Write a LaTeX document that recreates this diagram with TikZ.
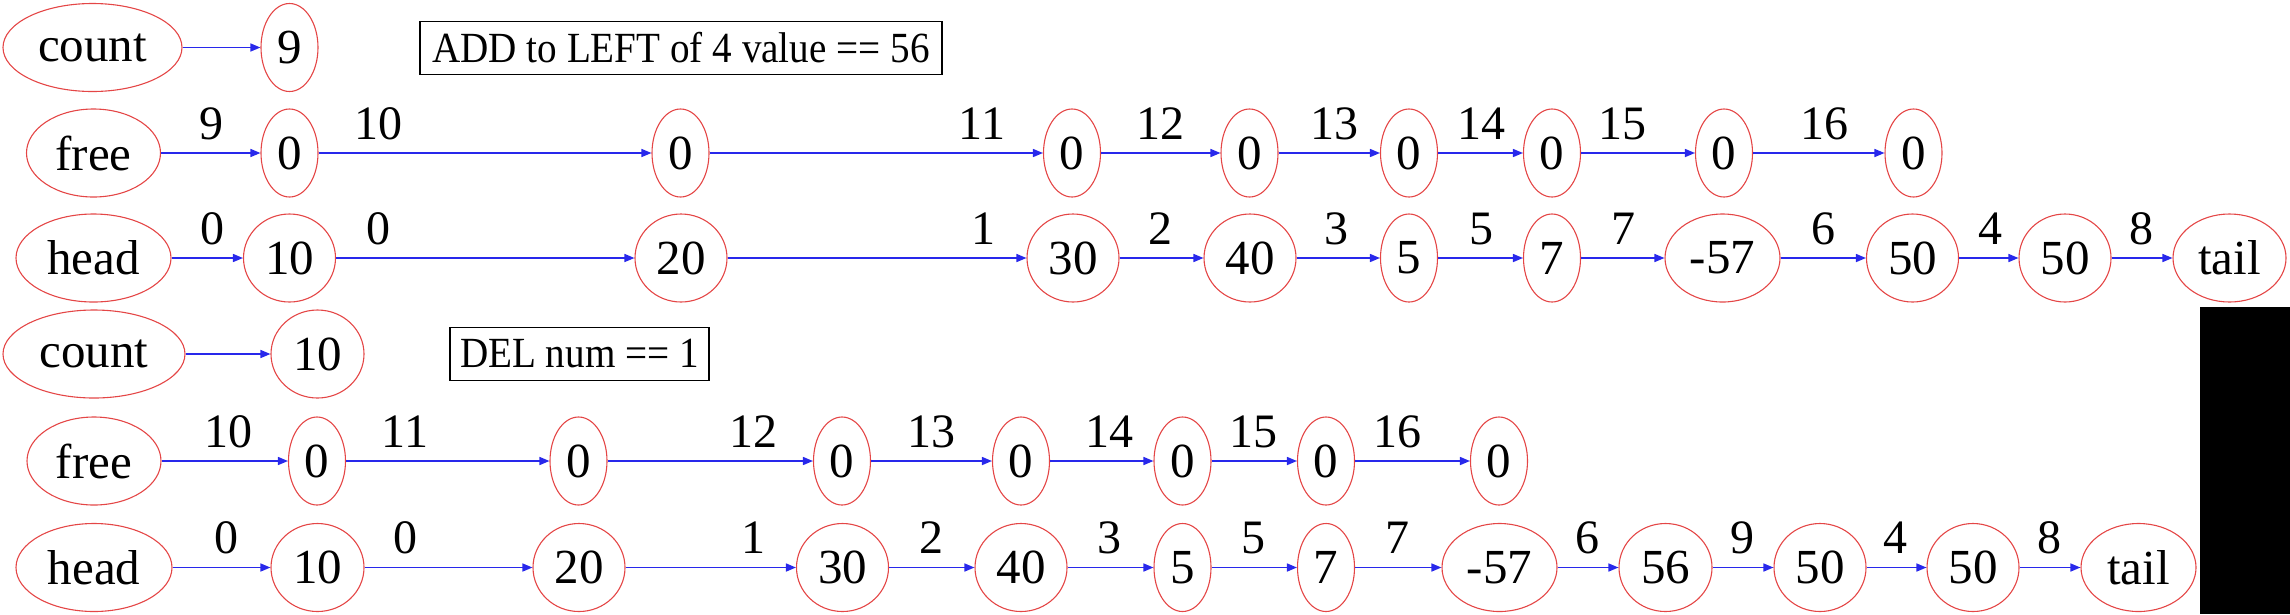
\documentclass[tikz,border=0pt]{standalone}
\usepackage{fontspec}
\setmainfont{Liberation Serif}
\newfontfamily\msgfont{Liberation Serif}[FakeStretch=0.91]
\usetikzlibrary{shapes.geometric,arrows.meta}
\definecolor{nodered}{RGB}{228,70,70}
\definecolor{edgeblue}{RGB}{40,40,235}
\tikzset{
  nd/.style={ellipse, draw=nodered, line width=1.1pt, inner sep=0pt, minimum height=88pt, font=\fontsize{49}{56}\selectfont},
  w1/.style={nd, minimum width=57pt},
  w2/.style={nd, minimum width=92pt},
  w3/.style={nd, minimum width=115pt},
  lbl/.style={anchor=base, inner sep=0pt, font=\fontsize{48}{56}\selectfont},
  edge/.style={draw=edgeblue, line width=1.5pt, -{Triangle[length=10pt,width=8pt]}},
  msg/.style={draw=black, line width=1.2pt, minimum height=53pt, inner sep=0pt, font=\msgfont\fontsize{43}{48}\selectfont}
}
\begin{document}
\begin{tikzpicture}[x=1pt,y=-1pt]
\useasboundingbox (0,0) rectangle (2290,614);
% ---------- top section ----------
\node[nd, minimum width=179pt] (tc) at (92.5,47.5) {count};
\node[w1] (tcv) at (289.5,47.5) {9};
\draw[edge] (tc) -- (tcv);
\node[msg, minimum width=522pt] (tmsg) at (681,48) {ADD to LEFT of 4 value == 56};
% free row
\node[nd, minimum width=134pt] (tf) at (93.5,153) {free};
\node[w1] (tf1) at (289.5,153) {0};
\node[w1] (tf2) at (680.5,153) {0};
\node[w1] (tf3) at (1072,153) {0};
\node[w1] (tf4) at (1249.5,153) {0};
\node[w1] (tf5) at (1409,153) {0};
\node[w1] (tf6) at (1552,153) {0};
\node[w1] (tf7) at (1724,153) {0};
\node[w1] (tf8) at (1913.5,153) {0};
\draw[edge] (tf) -- (tf1);
\draw[edge] (tf1) -- (tf2);
\draw[edge] (tf2) -- (tf3);
\draw[edge] (tf3) -- (tf4);
\draw[edge] (tf4) -- (tf5);
\draw[edge] (tf5) -- (tf6);
\draw[edge] (tf6) -- (tf7);
\draw[edge] (tf7) -- (tf8);
\node[lbl] (tfl1) at (211.5,139) {9};
\node[lbl] (tfl2) at (378,139) {10};
\node[lbl] (tfl3) at (982,139) {11};
\node[lbl] (tfl4) at (1160.5,139) {12};
\node[lbl] (tfl5) at (1334,139) {13};
\node[lbl] (tfl6) at (1481,139) {14};
\node[lbl] (tfl7) at (1622,139) {15};
\node[lbl] (tfl8) at (1824,139) {16};
% head row
\node[nd, minimum width=155pt] (th) at (93.5,258) {head};
\node[w2] (th1) at (289.5,258) {10};
\node[w2] (th2) at (681,258) {20};
\node[w2] (th3) at (1073,258) {30};
\node[w2] (th4) at (1250,258) {40};
\node[w1] (th5) at (1409,258) {5};
\node[w1] (th6) at (1552,258) {7};
\node[w3] (th7) at (1722.5,258) {-57};
\node[w2] (th8) at (1912.5,258) {50};
\node[w2] (th9) at (2065,258) {50};
\node[w3, minimum width=113pt] (th10) at (2229.5,258) {tail};
\draw[edge] (th) -- (th1);
\draw[edge] (th1) -- (th2);
\draw[edge] (th2) -- (th3);
\draw[edge] (th3) -- (th4);
\draw[edge] (th4) -- (th5);
\draw[edge] (th5) -- (th6);
\draw[edge] (th6) -- (th7);
\draw[edge] (th7) -- (th8);
\draw[edge] (th8) -- (th9);
\draw[edge] (th9) -- (th10);
\node[lbl] (thl1) at (212,244) {0};
\node[lbl] (thl2) at (378,244) {0};
\node[lbl] (thl3) at (983,244) {1};
\node[lbl] (thl4) at (1160,244) {2};
\node[lbl] (thl5) at (1336,244) {3};
\node[lbl] (thl6) at (1481,244) {5};
\node[lbl] (thl7) at (1623,244) {7};
\node[lbl] (thl8) at (1823,244) {6};
\node[lbl] (thl9) at (1990,244) {4};
\node[lbl] (thl10) at (2141,244) {8};
% ---------- bottom section ----------
\node[nd, minimum width=182pt] (bc) at (94,354) {count};
\node[w2, minimum width=93pt] (bcv) at (317.5,354) {10};
\draw[edge] (bc) -- (bcv);
\node[msg, minimum width=259pt] (bmsg) at (579.5,354) {DEL num == 1};
% free row
\node[nd, minimum width=134pt] (bf) at (94,461) {free};
\node[w1] (bf1) at (317,461) {0};
\node[w1] (bf2) at (578.5,461) {0};
\node[w1] (bf3) at (842,461) {0};
\node[w1] (bf4) at (1021,461) {0};
\node[w1] (bf5) at (1182.5,461) {0};
\node[w1] (bf6) at (1326,461) {0};
\node[w1] (bf7) at (1499,461) {0};
\draw[edge] (bf) -- (bf1);
\draw[edge] (bf1) -- (bf2);
\draw[edge] (bf2) -- (bf3);
\draw[edge] (bf3) -- (bf4);
\draw[edge] (bf4) -- (bf5);
\draw[edge] (bf5) -- (bf6);
\draw[edge] (bf6) -- (bf7);
\node[lbl] (bfl1) at (228,447) {10};
\node[lbl] (bfl2) at (405,447) {11};
\node[lbl] (bfl3) at (753,447) {12};
\node[lbl] (bfl4) at (931,447) {13};
\node[lbl] (bfl5) at (1109.5,447) {14};
\node[lbl] (bfl6) at (1253,447) {15};
\node[lbl] (bfl7) at (1397.5,447) {16};
% head row
\node[nd, minimum width=156pt] (bh) at (94,567.5) {head};
\node[w2, minimum width=93pt] (bh1) at (317.5,567.5) {10};
\node[w2] (bh2) at (579,567.5) {20};
\node[w2] (bh3) at (842.5,567.5) {30};
\node[w2] (bh4) at (1021,567.5) {40};
\node[w1] (bh5) at (1182.5,567.5) {5};
\node[w1] (bh6) at (1326,567.5) {7};
\node[w3] (bh7) at (1499.5,567.5) {-57};
\node[w2, minimum width=93pt] (bh8) at (1665.5,567.5) {56};
\node[w2] (bh9) at (1820,567.5) {50};
\node[w2] (bh10) at (1973,567.5) {50};
\node[w3] (bh11) at (2138.5,567.5) {tail};
\draw[edge] (bh) -- (bh1);
\draw[edge] (bh1) -- (bh2);
\draw[edge] (bh2) -- (bh3);
\draw[edge] (bh3) -- (bh4);
\draw[edge] (bh4) -- (bh5);
\draw[edge] (bh5) -- (bh6);
\draw[edge] (bh6) -- (bh7);
\draw[edge] (bh7) -- (bh8);
\draw[edge] (bh8) -- (bh9);
\draw[edge] (bh9) -- (bh10);
\draw[edge] (bh10) -- (bh11);
\node[lbl] (bhl1) at (226.5,553) {0};
\node[lbl] (bhl2) at (405,553) {0};
\node[lbl] (bhl3) at (753,553) {1};
\node[lbl] (bhl4) at (931,553) {2};
\node[lbl] (bhl5) at (1109.5,553) {3};
\node[lbl] (bhl6) at (1253,553) {5};
\node[lbl] (bhl7) at (1397.5,553) {7};
\node[lbl] (bhl8) at (1587,553) {6};
\node[lbl] (bhl9) at (1742,553) {9};
\node[lbl] (bhl10) at (1895,553) {4};
\node[lbl] (bhl11) at (2049,553) {8};
% black filler block
\fill[black] (2200,307) rectangle (2290,614);
\end{tikzpicture}
\end{document}
